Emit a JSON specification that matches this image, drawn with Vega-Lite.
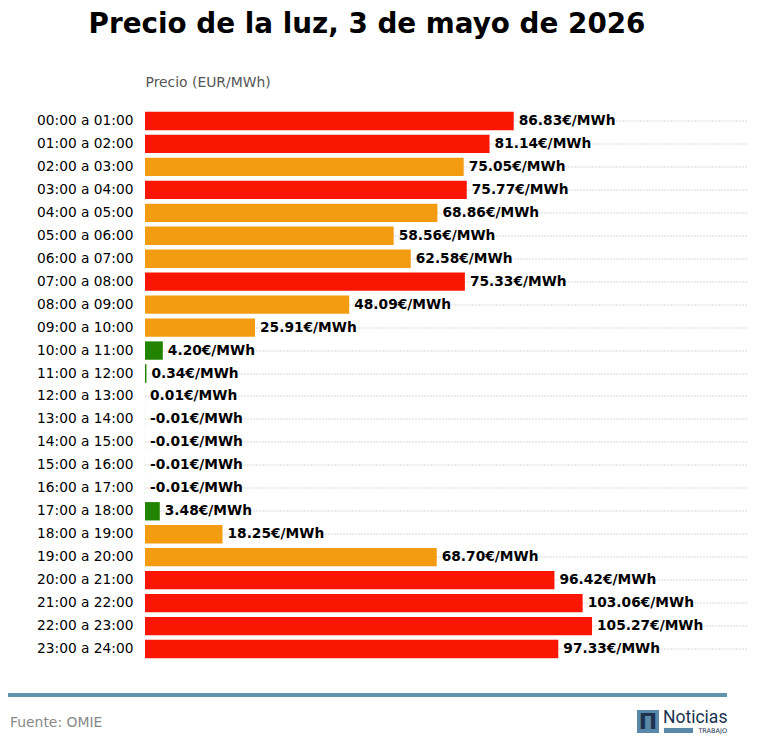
{
  "$schema": "https://vega.github.io/schema/vega-lite/v6.json",
  "title": {"text": "Precio de la luz, 3 de mayo de 2026", "font": "DejaVu Sans", "fontSize": 27.8, "fontWeight": "bold", "color": "#000000", "anchor": "middle", "dx": -10, "offset": 37},
  "background": "#ffffff",
  "padding": {"left": 6, "right": 10, "top": 10.5, "bottom": 6},
  "config": {"view": {"stroke": null}, "font": "DejaVu Sans"},
  "spacing": 29.5,
  "vconcat": [
    {
      "width": 603,
      "height": 551,
      "data": {"values": [
        {"hora": "00:00 a 01:00", "precio": 86.83, "nivel": "alto", "etiqueta": "86.83€/MWh"},
        {"hora": "01:00 a 02:00", "precio": 81.14, "nivel": "alto", "etiqueta": "81.14€/MWh"},
        {"hora": "02:00 a 03:00", "precio": 75.05, "nivel": "medio", "etiqueta": "75.05€/MWh"},
        {"hora": "03:00 a 04:00", "precio": 75.77, "nivel": "alto", "etiqueta": "75.77€/MWh"},
        {"hora": "04:00 a 05:00", "precio": 68.86, "nivel": "medio", "etiqueta": "68.86€/MWh"},
        {"hora": "05:00 a 06:00", "precio": 58.56, "nivel": "medio", "etiqueta": "58.56€/MWh"},
        {"hora": "06:00 a 07:00", "precio": 62.58, "nivel": "medio", "etiqueta": "62.58€/MWh"},
        {"hora": "07:00 a 08:00", "precio": 75.33, "nivel": "alto", "etiqueta": "75.33€/MWh"},
        {"hora": "08:00 a 09:00", "precio": 48.09, "nivel": "medio", "etiqueta": "48.09€/MWh"},
        {"hora": "09:00 a 10:00", "precio": 25.91, "nivel": "medio", "etiqueta": "25.91€/MWh"},
        {"hora": "10:00 a 11:00", "precio": 4.20, "nivel": "bajo", "etiqueta": "4.20€/MWh"},
        {"hora": "11:00 a 12:00", "precio": 0.34, "nivel": "bajo", "etiqueta": "0.34€/MWh"},
        {"hora": "12:00 a 13:00", "precio": 0.01, "nivel": "bajo", "etiqueta": "0.01€/MWh"},
        {"hora": "13:00 a 14:00", "precio": -0.01, "nivel": "bajo", "etiqueta": "-0.01€/MWh"},
        {"hora": "14:00 a 15:00", "precio": -0.01, "nivel": "bajo", "etiqueta": "-0.01€/MWh"},
        {"hora": "15:00 a 16:00", "precio": -0.01, "nivel": "bajo", "etiqueta": "-0.01€/MWh"},
        {"hora": "16:00 a 17:00", "precio": -0.01, "nivel": "bajo", "etiqueta": "-0.01€/MWh"},
        {"hora": "17:00 a 18:00", "precio": 3.48, "nivel": "bajo", "etiqueta": "3.48€/MWh"},
        {"hora": "18:00 a 19:00", "precio": 18.25, "nivel": "medio", "etiqueta": "18.25€/MWh"},
        {"hora": "19:00 a 20:00", "precio": 68.70, "nivel": "medio", "etiqueta": "68.70€/MWh"},
        {"hora": "20:00 a 21:00", "precio": 96.42, "nivel": "alto", "etiqueta": "96.42€/MWh"},
        {"hora": "21:00 a 22:00", "precio": 103.06, "nivel": "alto", "etiqueta": "103.06€/MWh"},
        {"hora": "22:00 a 23:00", "precio": 105.27, "nivel": "alto", "etiqueta": "105.27€/MWh"},
        {"hora": "23:00 a 24:00", "precio": 97.33, "nivel": "alto", "etiqueta": "97.33€/MWh"}
      ]},
      "encoding": {
        "y": {
          "field": "hora",
          "type": "nominal",
          "sort": null,
          "title": null,
          "scale": {"paddingInner": 0.2, "paddingOuter": 0.1},
          "axis": {"domain": false, "ticks": false, "labelPadding": 12, "labelFontSize": 13.75, "labelColor": "#000000", "labelFont": "DejaVu Sans", "grid": true, "gridColor": "#b0b0b0", "gridDash": [1, 2], "gridWidth": 1}
        },
        "x": {
          "field": "precio",
          "type": "quantitative",
          "title": "Precio (EUR/MWh)",
          "scale": {"domain": [0, 142], "nice": false, "zero": false},
          "axis": {"orient": "top", "labels": false, "ticks": false, "domain": false, "grid": false, "title": "Precio (EUR/MWh)", "titleAnchor": "start", "titleFontWeight": "normal", "titleFontSize": 13.9, "titleColor": "#555555", "titleFont": "DejaVu Sans", "titlePadding": 20}
        }
      },
      "layer": [
        {
          "mark": {"type": "bar"},
          "encoding": {
            "color": {"field": "nivel", "type": "nominal", "legend": null, "scale": {"domain": ["alto", "medio", "bajo"], "range": ["#fb1604", "#f39c12", "#218300"]}}
          }
        },
        {
          "transform": [{"filter": "datum.precio >= 0.01"}],
          "mark": {"type": "text", "align": "left", "baseline": "middle", "dx": 5, "fontWeight": "bold", "fontSize": 13.75, "font": "DejaVu Sans", "color": "#000000"},
          "encoding": {"text": {"field": "etiqueta", "type": "nominal"}}
        },
        {
          "transform": [{"filter": "datum.precio < 0.01"}],
          "mark": {"type": "text", "align": "left", "baseline": "middle", "dx": 5, "fontWeight": "bold", "fontSize": 13.75, "font": "DejaVu Sans", "color": "#000000"},
          "encoding": {
            "x": {"datum": 0},
            "text": {"field": "etiqueta", "type": "nominal"}
          }
        }
      ]
    },
    {
      "width": 603,
      "height": 50,
      "data": {"values": [{"fuente": "Fuente: OMIE", "marca": "Noticias", "seccion": "TRABAJO", "inicial": "Π"}]},
      "encoding": {
        "x": {"type": "quantitative", "scale": {"domain": [0, 758], "range": [-145, 613], "nice": false, "zero": false}, "axis": null},
        "y": {"type": "quantitative", "scale": {"domain": [690, 740], "range": [0, 50], "nice": false, "zero": false}, "axis": null}
      },
      "layer": [
        {
          "mark": {"type": "rule", "color": "#5f94ad", "strokeWidth": 4, "clip": false},
          "encoding": {"x": {"datum": 8, "type": "quantitative"}, "x2": {"datum": 727}, "y": {"datum": 695, "type": "quantitative"}}
        },
        {
          "mark": {"type": "text", "align": "left", "baseline": "middle", "fontSize": 13.9, "font": "DejaVu Sans", "color": "#888888"},
          "encoding": {"x": {"datum": 10, "type": "quantitative"}, "y": {"datum": 722.5, "type": "quantitative"}, "text": {"field": "fuente"}}
        },
        {
          "mark": {"type": "rect", "color": "#5a88a8"},
          "encoding": {"x": {"datum": 637, "type": "quantitative"}, "x2": {"datum": 659}, "y": {"datum": 710, "type": "quantitative"}, "y2": {"datum": 733}}
        },
        {
          "mark": {"type": "text", "align": "center", "baseline": "middle", "fontSize": 22, "fontWeight": "bold", "font": "DejaVu Sans", "color": "#1c3250"},
          "encoding": {"x": {"datum": 648, "type": "quantitative"}, "y": {"datum": 722, "type": "quantitative"}, "text": {"field": "inicial"}}
        },
        {
          "mark": {"type": "text", "align": "left", "baseline": "middle", "fontSize": 17.5, "font": "Roboto", "color": "#1c3250"},
          "encoding": {"x": {"datum": 663, "type": "quantitative"}, "y": {"datum": 718, "type": "quantitative"}, "text": {"field": "marca"}}
        },
        {
          "mark": {"type": "rect", "color": "#5a88a8"},
          "encoding": {"x": {"datum": 664, "type": "quantitative"}, "x2": {"datum": 693}, "y": {"datum": 728, "type": "quantitative"}, "y2": {"datum": 733}}
        },
        {
          "mark": {"type": "text", "align": "right", "baseline": "middle", "fontSize": 6.5, "font": "DejaVu Sans", "color": "#1c3250"},
          "encoding": {"x": {"datum": 727, "type": "quantitative"}, "y": {"datum": 731, "type": "quantitative"}, "text": {"field": "seccion"}}
        }
      ]
    }
  ]
}
